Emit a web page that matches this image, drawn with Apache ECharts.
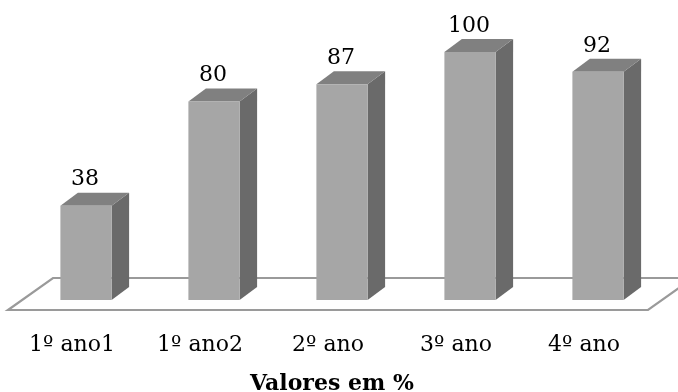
<!DOCTYPE html>
<html>
<head>
<meta charset="utf-8">
<script src="https://cdn.jsdelivr.net/npm/echarts@6/dist/echarts.min.js"></script>
<style>
  html, body { margin: 0; padding: 0; background: #ffffff; }
  #chart { width: 678px; height: 392px; }
</style>
</head>
<body>
<div id="chart"></div>
<script>
// Percentages per school year
const categories = ['1º ano1', '1º ano2', '2º ano', '3º ano', '4º ano'];
const values = [38, 80, 87, 100, 92];
const axisTitle = 'Valores em %';

const FONT = '"DejaVu Serif", "Liberation Serif", serif';

// Oblique projection of the depth axis
const FLOOR_DX = 45, FLOOR_DY = -32;   // full floor depth
const BAR_OFF_X = 14, BAR_OFF_Y = -10; // bar front sits this far back from the floor front
const BAR_DX = 17.5, BAR_DY = -13;     // bar depth
const BAR_RATIO = 0.4;                 // bar width as share of a category band

const chart = echarts.init(document.getElementById('chart'));

function renderFloor(params, api) {
  const band = api.size([1, 0])[0];
  const p0 = api.coord([0, 0]);
  const p1 = api.coord([categories.length - 1, 0]);
  const x0 = p0[0] - band / 2;
  const x1 = p1[0] + band / 2;
  const y = p0[1];
  return {
    type: 'polygon',
    shape: { points: [[x0, y], [x1, y], [x1 + FLOOR_DX, y + FLOOR_DY], [x0 + FLOOR_DX, y + FLOOR_DY]] },
    style: { fill: '#ffffff', stroke: '#9a9a9a', lineWidth: 2.2 }
  };
}

function renderBar(params, api) {
  const idx = api.value(0);
  const val = api.value(1);
  const band = api.size([1, 0])[0];
  const w = band * BAR_RATIO;
  const base = api.coord([idx, 0]);
  const top = api.coord([idx, val]);
  const xl = base[0] + BAR_OFF_X - w / 2;
  const xr = xl + w;
  const yb = base[1] + BAR_OFF_Y;
  const yt = top[1] + BAR_OFF_Y;
  return {
    type: 'group',
    children: [
      {
        type: 'polygon',
        shape: { points: [[xr, yt], [xr + BAR_DX, yt + BAR_DY], [xr + BAR_DX, yb + BAR_DY], [xr, yb]] },
        style: { fill: '#6a6a6a' }
      },
      {
        type: 'polygon',
        shape: { points: [[xl, yt], [xl + BAR_DX, yt + BAR_DY], [xr + BAR_DX, yt + BAR_DY], [xr, yt]] },
        style: { fill: '#808080' }
      },
      {
        type: 'rect',
        shape: { x: xl, y: yt, width: w, height: yb - yt },
        style: { fill: '#a6a6a6' }
      },
      {
        type: 'text',
        x: (xl + xr) / 2 - 1,
        y: yt - 15,
        style: {
          text: String(val),
          fill: '#000000',
          font: '22px ' + FONT,
          align: 'center',
          verticalAlign: 'bottom'
        }
      }
    ]
  };
}

chart.setOption({
  animation: false,
  backgroundColor: '#ffffff',
  title: {
    text: axisTitle,
    left: 245,
    top: 368,
    textStyle: { fontFamily: FONT, fontSize: 22, fontWeight: 'bold', color: '#000000' }
  },
  grid: { left: 8, right: 30, top: 62, bottom: 82 },
  xAxis: {
    type: 'category',
    data: categories,
    axisLine: { show: false },
    axisTick: { show: false },
    splitLine: { show: false },
    axisLabel: {
      fontFamily: FONT,
      fontSize: 22,
      color: '#000000',
      margin: 35,
      verticalAlign: 'middle',
      interval: 0
    }
  },
  yAxis: {
    type: 'value',
    min: 0,
    max: 100,
    show: false
  },
  series: [
    {
      type: 'custom',
      z: 1,
      renderItem: renderFloor,
      data: [[0, 0]],
      silent: true
    },
    {
      type: 'custom',
      z: 2,
      renderItem: renderBar,
      data: values.map((v, i) => [i, v]),
      silent: true
    }
  ]
});
</script>
</body>
</html>
